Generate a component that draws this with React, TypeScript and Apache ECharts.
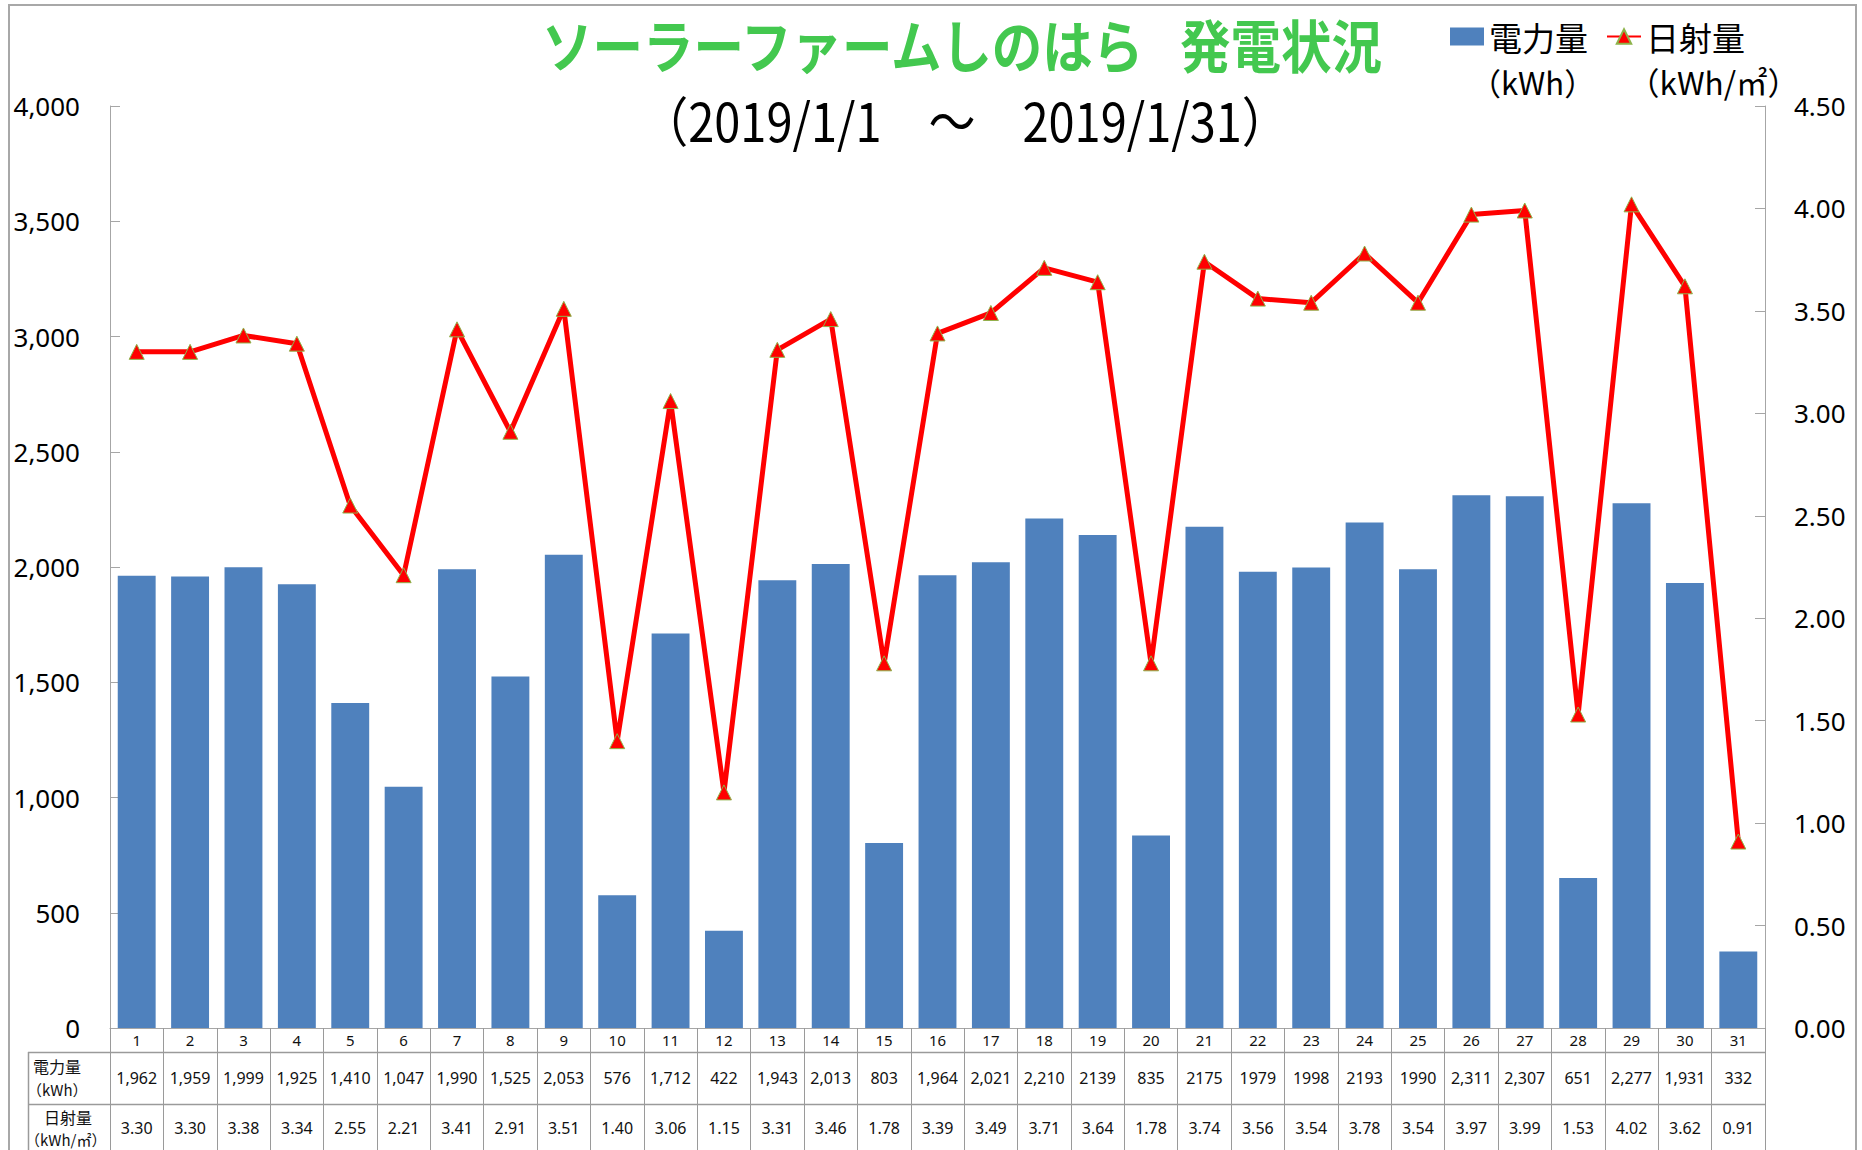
import React, { useEffect, useRef } from 'react';
import * as echarts from 'echarts';

const days = ['1','2','3','4','5','6','7','8','9','10','11','12','13','14','15','16','17','18','19','20','21','22','23','24','25','26','27','28','29','30','31'];
const power = [1962,1959,1999,1925,1410,1047,1990,1525,2053,576,1712,422,1943,2013,803,1964,2021,2210,2139,835,2175,1979,1998,2193,1990,2311,2307,651,2277,1931,332];
const powerText = ['1,962','1,959','1,999','1,925','1,410','1,047','1,990','1,525','2,053','576','1,712','422','1,943','2,013','803','1,964','2,021','2,210','2139','835','2175','1979','1998','2193','1990','2,311','2,307','651','2,277','1,931','332'];
const irradiance = [3.30,3.30,3.38,3.34,2.55,2.21,3.41,2.91,3.51,1.40,3.06,1.15,3.31,3.46,1.78,3.39,3.49,3.71,3.64,1.78,3.74,3.56,3.54,3.78,3.54,3.97,3.99,1.53,4.02,3.62,0.91];

const CJK = '"Noto Sans CJK JP", "Noto Sans", sans-serif';
const LAT = '"Noto Sans", "Noto Sans CJK JP", sans-serif';
const AXIS_GREY = '#a6a6a6';
const TABLE_GREY = '#9a9a9a';

export default function App() {
  const ref = useRef<HTMLDivElement>(null);
  useEffect(() => {
    document.body.style.margin = '0';
    const chart = echarts.init(ref.current!, null, { renderer: 'svg' });
    chart.setOption({
      animation: false,
      backgroundColor: '#ffffff',
      grid: { left: 110, right: 97, top: 106, bottom: 122, containLabel: false },
      legend: {
        left: 1450,
        top: 20,
        padding: 0,
        itemWidth: 34,
        itemHeight: 18,
        itemGap: 18,
        textStyle: { fontSize: 33, fontFamily: CJK, color: '#000' },
        data: [{ name: '電力量', icon: 'rect' }, { name: '日射量' }],
      },
      xAxis: {
        type: 'category',
        data: days,
        axisLine: { show: true, lineStyle: { color: AXIS_GREY, width: 1 } },
        axisTick: { show: true, interval: 0, length: 124, lineStyle: { color: TABLE_GREY, width: 1 } },
        axisLabel: {
          interval: 0,
          margin: 0,
          formatter: (value: string, index: number) =>
            `{d|${value}}\n{p|${powerText[index]}}\n{i|${irradiance[index].toFixed(2)}}`,
          rich: {
            d: { fontSize: 15, lineHeight: 24, fontFamily: LAT, color: '#111' },
            p: { fontSize: 16, lineHeight: 52, fontFamily: LAT, color: '#111' },
            i: { fontSize: 16, lineHeight: 48, fontFamily: LAT, color: '#111' },
          },
        },
      },
      yAxis: [
        {
          type: 'value', min: 0, max: 4000, interval: 500, position: 'left',
          axisLine: { show: true, lineStyle: { color: AXIS_GREY, width: 1 } },
          axisTick: { show: true, inside: true, length: 10, lineStyle: { color: AXIS_GREY } },
          splitLine: { show: false },
          axisLabel: {
            margin: 30, fontSize: 26, color: '#000', fontFamily: LAT,
            formatter: (v: number) => v.toLocaleString('en-US'),
          },
        },
        {
          type: 'value', min: 0, max: 4.5, interval: 0.5, position: 'right',
          axisLine: { show: true, lineStyle: { color: AXIS_GREY, width: 1 } },
          axisTick: { show: true, inside: true, length: 10, lineStyle: { color: AXIS_GREY } },
          splitLine: { show: false },
          axisLabel: {
            margin: 29, fontSize: 26, color: '#000', fontFamily: LAT,
            formatter: (v: number) => v.toFixed(2),
          },
        },
      ],
      series: [
        {
          name: '電力量', type: 'bar', data: power, barWidth: '71%',
          itemStyle: { color: '#4f81bd' },
        },
        {
          name: '日射量', type: 'line', yAxisIndex: 1, data: irradiance,
          symbol: 'triangle', symbolSize: 15, showAllSymbol: true,
          lineStyle: { color: '#ff0000', width: 5 },
          itemStyle: { color: '#ff0000', borderColor: '#8db34a', borderWidth: 1 },
          z: 5,
        },
      ],
      graphic: [
        { type: 'rect', silent: true, z: -10, shape: { x: 9, y: 5, width: 1847, height: 1165 }, style: { fill: 'none', stroke: '#a8a8a8', lineWidth: 2 } },
        { type: 'text', x: 962, y: 43, scaleY: 1.13, style: { text: 'ソーラーファームしのはら\u2002 発電状況', fontSize: 50.5, fontWeight: 'bold', fontFamily: CJK, fill: '#43c84f', textAlign: 'center', textVerticalAlign: 'middle' } },
        { type: 'text', x: 965, y: 119, scaleY: 1.14, style: { text: '（2019/1/1　～　2019/1/31）', fontSize: 47, fontFamily: CJK, fill: '#000', textAlign: 'center', textVerticalAlign: 'middle' } },
        { type: 'text', x: 1470, y: 81, style: { text: '（kWh）', fontSize: 31, fontFamily: CJK, fill: '#000', textAlign: 'left', textVerticalAlign: 'middle' } },
        { type: 'text', x: 1628, y: 81, style: { text: '（kWh/㎡）', fontSize: 31.5, fontFamily: CJK, fill: '#000', textAlign: 'left', textVerticalAlign: 'middle' } },
        { type: 'line', silent: true, shape: { x1: 28, y1: 1052.5, x2: 1765, y2: 1052.5 }, style: { stroke: TABLE_GREY, lineWidth: 1.5 } },
        { type: 'line', silent: true, shape: { x1: 28, y1: 1104.5, x2: 1765, y2: 1104.5 }, style: { stroke: TABLE_GREY, lineWidth: 1.5 } },
        { type: 'line', silent: true, shape: { x1: 28.5, y1: 1052, x2: 28.5, y2: 1150 }, style: { stroke: TABLE_GREY, lineWidth: 1.5 } },
        { type: 'text', x: 33, y: 1066, style: { text: '電力量', fontSize: 16, fontFamily: CJK, fill: '#111', textAlign: 'left', textVerticalAlign: 'middle' } },
        { type: 'text', x: 27, y: 1089, style: { text: '（kWh）', fontSize: 15, fontFamily: CJK, fill: '#111', textAlign: 'left', textVerticalAlign: 'middle' } },
        { type: 'text', x: 44, y: 1117, style: { text: '日射量', fontSize: 16, fontFamily: CJK, fill: '#111', textAlign: 'left', textVerticalAlign: 'middle' } },
        { type: 'text', x: 25, y: 1139, style: { text: '（kWh/㎡）', fontSize: 15, fontFamily: CJK, fill: '#111', textAlign: 'left', textVerticalAlign: 'middle' } },
      ],
    });
    return () => chart.dispose();
  }, []);
  return <div ref={ref} style={{ width: 1862, height: 1150 }} />;
}
